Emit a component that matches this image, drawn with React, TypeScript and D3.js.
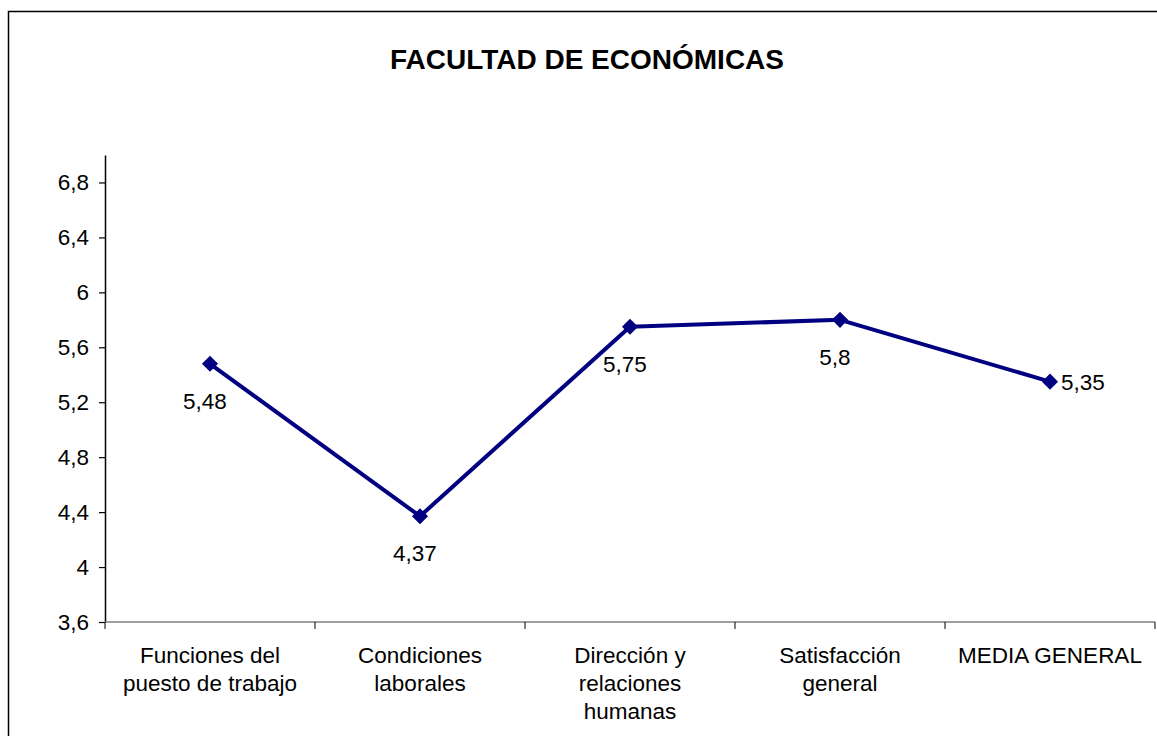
import { useEffect, useRef } from "react";
import * as d3 from "d3";

const categories = [
  "Funciones del\npuesto de trabajo",
  "Condiciones\nlaborales",
  "Dirección y\nrelaciones\nhumanas",
  "Satisfacción\ngeneral",
  "MEDIA GENERAL",
];
const values = [5.48, 4.37, 5.75, 5.8, 5.35];
const labelPos = ["below", "below", "below", "below", "right"];
const yTicks = [3.6, 4, 4.4, 4.8, 5.2, 5.6, 6, 6.4, 6.8];

const font = "'Liberation Sans', Arial, sans-serif";

export default function App() {
  const ref = useRef<SVGSVGElement>(null);

  useEffect(() => {
    const svg = d3.select(ref.current);
    svg.selectAll("*").remove();

    const left = 105, right = 1155, top = 155, bottom = 622;
    const x = d3.scaleBand().domain(categories).range([left, right]);
    const y = d3.scaleLinear().domain([3.6, 7.0]).range([bottom, top]);
    const fmt = (v: number) => String(v).replace(".", ",");

    // frame
    svg.append("rect")
      .attr("x", 8.5).attr("y", 11.5)
      .attr("width", 1160).attr("height", 740)
      .attr("fill", "white").attr("stroke", "#000").attr("stroke-width", 1.5);

    svg.append("text")
      .attr("x", 587).attr("y", 69)
      .attr("text-anchor", "middle")
      .style("font-family", font).style("font-size", "28px").style("font-weight", "bold")
      .text("FACULTAD DE ECONÓMICAS");

    // y axis
    const yAxis = svg.append("g")
      .attr("transform", `translate(${left},0)`)
      .call(d3.axisLeft(y).tickValues(yTicks).tickSize(6).tickSizeOuter(0).tickFormat((d) => fmt(+d)));
    yAxis.select(".domain").attr("stroke", "#000").attr("stroke-width", 1.5);
    yAxis.selectAll(".tick line").attr("stroke", "#000").attr("stroke-width", 1.2);
    yAxis.selectAll(".tick text")
      .attr("x", -16)
      .style("font-family", font).style("font-size", "22.5px").attr("fill", "#000");

    // x axis
    const xg = svg.append("g").attr("transform", `translate(0,${bottom})`);
    xg.append("line")
      .attr("x1", left).attr("x2", right)
      .attr("stroke", "#808080").attr("stroke-width", 1.5);
    const bounds = categories.map((c) => x(c) as number).concat([right]);
    xg.selectAll(".xtick").data(bounds).join("line")
      .attr("x1", (d) => d).attr("x2", (d) => d)
      .attr("y1", 0).attr("y2", 7)
      .attr("stroke", "#000").attr("stroke-width", 1);

    const cat = xg.selectAll(".cat").data(categories).join("text")
      .attr("text-anchor", "middle")
      .attr("transform", (d) => `translate(${(x(d) as number) + x.bandwidth() / 2},41)`)
      .style("font-family", font).style("font-size", "22.5px").attr("fill", "#000");
    cat.selectAll("tspan").data((d) => d.split("\n")).join("tspan")
      .attr("x", 0).attr("dy", (_d, i) => (i === 0 ? 0 : 28))
      .text((d) => d);

    const cx = (i: number) => (x(categories[i]) as number) + x.bandwidth() / 2;

    // line
    const line = d3.line<number>().x((_d, i) => cx(i)).y((d) => y(d));
    svg.append("path")
      .datum(values)
      .attr("d", line)
      .attr("fill", "none").attr("stroke", "#000080").attr("stroke-width", 4)
      .attr("stroke-linejoin", "round");

    // markers
    svg.selectAll(".mk").data(values).join("path")
      .attr("d", d3.symbol(d3.symbolSquare, 130)())
      .attr("transform", (d, i) => `translate(${cx(i)},${y(d)}) rotate(45)`)
      .attr("fill", "#000080");

    // data labels
    svg.selectAll(".lbl").data(values).join("text")
      .attr("x", (_d, i) => (labelPos[i] === "right" ? cx(i) + 11 : cx(i) - 5))
      .attr("y", (d, i) => (labelPos[i] === "right" ? y(d) + 8 : y(d) + 45))
      .attr("text-anchor", (_d, i) => (labelPos[i] === "right" ? "start" : "middle"))
      .style("font-family", font).style("font-size", "22.5px").attr("fill", "#000")
      .text((d) => fmt(d));
  }, []);

  return (
    <svg ref={ref} width={1157} height={736}
      style={{ position: "absolute", left: 0, top: 0, background: "white" }} />
  );
}
